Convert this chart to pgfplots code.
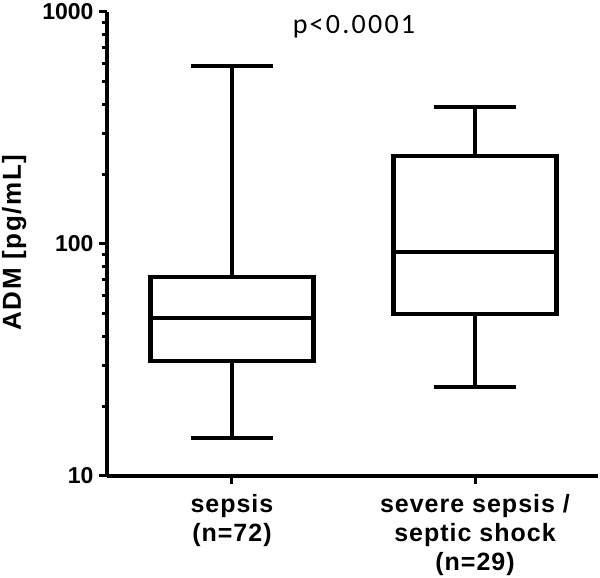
\documentclass[border=0pt]{standalone}
\usepackage{fontspec}
\setmainfont{Liberation Sans}
\newfontfamily\pfont[LetterSpace=8]{Carlito}
\newfontfamily\labfont[LetterSpace=6]{Liberation Sans}
\newfontfamily\tickfont[LetterSpace=4]{Liberation Sans}
\usepackage{pgfplots}
\pgfplotsset{compat=1.18}

\begin{document}
\begin{tikzpicture}
\path[use as bounding box] (-107pt,-102pt) rectangle (493pt,476pt);
\begin{axis}[
    at={(0pt,0pt)}, anchor=south west,
    scale only axis,
    width=491pt, height=464pt,
    ymode=log,
    ymin=10, ymax=1000,
    xmin=0.486, xmax=2.506,
    axis x line=bottom, axis y line=left,
    axis line style={-, line width=3.5pt},
    every tick/.style={black, line width=3pt},
    tick align=outside,
    major tick length=8pt, minor tick length=4.5pt,
    ytick={10,100,1000},
    yticklabels={10,100,1000},
    xtick={1,2},
    xticklabels={sepsis\\(n=72), severe sepsis /\\septic shock\\(n=29)},
    xticklabel style={align=center, yshift=-7pt, font=\tickfont\fontsize{25}{29}\selectfont\bfseries},
    yticklabel style={xshift=-2pt, font=\fontsize{23}{26}\selectfont\bfseries},
    ylabel={ADM [pg/mL]},
    ylabel style={at={(axis description cs:-0.189,0.503)}, anchor=center,
        font=\labfont\fontsize{26}{28}\selectfont\bfseries},
    clip=false,
    box/.style={black, line width=4.3pt, mark=none, line join=miter},
]
% sepsis (n=72): whiskers 14.6 / 585, quartiles 31.3 / 72.1, median 48
\addplot[box] coordinates {(0.665,31.3) (1.335,31.3) (1.335,72.1) (0.665,72.1)} -- cycle;
\addplot[box] coordinates {(0.665,48) (1.335,48)};
\addplot[box] coordinates {(1,72.1) (1,585)};
\addplot[box] coordinates {(1,31.3) (1,14.6)};
\addplot[box] coordinates {(0.833,585) (1.167,585)};
\addplot[box] coordinates {(0.833,14.6) (1.167,14.6)};
% severe sepsis / septic shock (n=29): whiskers 24.2 / 389, quartiles 49.9 / 239, median 92.4
\addplot[box] coordinates {(1.665,49.9) (2.335,49.9) (2.335,239) (1.665,239)} -- cycle;
\addplot[box] coordinates {(1.665,92.4) (2.335,92.4)};
\addplot[box] coordinates {(2,239) (2,389)};
\addplot[box] coordinates {(2,49.9) (2,24.2)};
\addplot[box] coordinates {(1.833,389) (2.167,389)};
\addplot[box] coordinates {(1.833,24.2) (2.167,24.2)};
\node[font=\pfont\fontsize{28}{30}\selectfont] at (axis description cs:0.503,0.968) {p<0.0001};
\end{axis}
\end{tikzpicture}
\end{document}
